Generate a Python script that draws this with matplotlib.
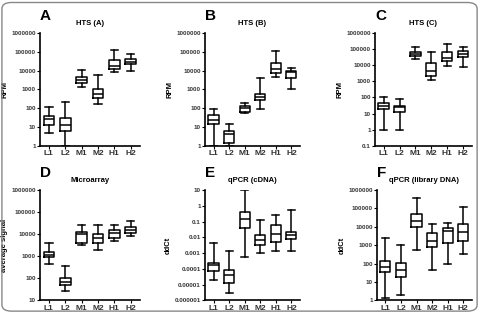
import matplotlib
matplotlib.use("Agg")
import matplotlib.pyplot as plt
from matplotlib.patches import FancyBboxPatch

plt.rcParams['font.family'] = ['Liberation Sans', 'DejaVu Sans']

groups = ['L1', 'L2', 'M1', 'M2', 'H1', 'H2']

# box stats per panel: (whislo, q1, med, q3, whishi) for each group
hts_a = [(5, 13, 27, 40, 110), (1, 6, 13, 30, 220), (1300, 2300, 3200, 4500, 11000),
         (160, 340, 580, 1000, 5500), (8000, 12000, 18000, 36000, 130000),
         (9000, 22000, 30000, 42000, 80000)]
hts_b = [(1, 15, 24, 42, 95), (1, 1.5, 4.5, 6.5, 14), (55, 65, 100, 130, 180),
         (90, 270, 380, 600, 3800), (4500, 7500, 12000, 25000, 110000),
         (1100, 4000, 8500, 10000, 13000)]
hts_c = [(1, 19, 30, 45, 100), (1, 12, 24, 30, 75), (24000, 35000, 50000, 65000, 130000),
         (1200, 2000, 4400, 13000, 70000), (9500, 19000, 28000, 65000, 200000),
         (8000, 30000, 50000, 75000, 130000)]
micro = [(450, 900, 1200, 1500, 4000), (27, 48, 70, 100, 370), (3400, 4200, 9800, 13000, 27000),
         (2000, 4200, 6900, 9700, 25000), (4700, 7000, 11000, 15000, 25000),
         (8000, 11000, 16000, 21000, 38000)]
qpcr_cdna = [(2e-5, 7.5e-5, 1.7e-4, 2.5e-4, 0.0045), (3.2e-6, 1.2e-5, 3.9e-5, 8.5e-5, 0.0014),
             (0.0006, 0.039, 0.14, 0.38, 9.5), (0.001, 0.0033, 0.0068, 0.014, 0.13),
             (0.0013, 0.005, 0.017, 0.065, 0.28), (0.0013, 0.008, 0.015, 0.022, 0.57)]
qpcr_lib = [(1.4, 36, 70, 140, 2600), (2, 19, 45, 110, 1000), (560, 9500, 22000, 50000, 360000),
            (48, 850, 1700, 4500, 14000), (95, 1300, 6000, 8500, 16000),
            (350, 1800, 5500, 14000, 115000)]

panels = [
    ('A', 'HTS (A)', 'RPM', hts_a, (0, 6), [0.083, 0.534, 0.208, 0.361]),
    ('B', 'HTS (B)', 'RPM', hts_b, (0, 6), [0.427, 0.534, 0.198, 0.361]),
    ('C', 'HTS (C)', 'RPM', hts_c, (-1, 6), [0.781, 0.534, 0.202, 0.361]),
    ('D', 'Microarray', 'average signal', micro, (1, 6), [0.083, 0.04, 0.208, 0.353]),
    ('E', 'qPCR (cDNA)', 'ddCt', qpcr_cdna, (-6, 1), [0.427, 0.04, 0.198, 0.353]),
    ('F', 'qPCR (library DNA)', 'ddCt', qpcr_lib, (0, 6), [0.785, 0.04, 0.198, 0.353]),
]


def fmt(e):
    # plain decimal label for 10**e
    if e >= 0:
        return str(10 ** e)
    return '0.' + '0' * (-e - 1) + '1'


fig = plt.figure(figsize=(4.8, 3.13), dpi=100)

for letter, title, ylabel, data, (e0, e1), pos in panels:
    ax = fig.add_axes(pos)
    stats = []
    for g, (lo, q1, med, q3, hi) in zip(groups, data):
        stats.append(dict(label=g, whislo=lo, q1=q1, med=med, q3=q3, whishi=hi, fliers=[]))
    ax.bxp(stats, widths=0.65, capwidths=0.45, showfliers=False,
           boxprops=dict(color='black', linewidth=1.1),
           whiskerprops=dict(color='black', linewidth=1.1),
           capprops=dict(color='black', linewidth=1.1),
           medianprops=dict(color='black', linewidth=1.1))
    ax.set_yscale('log')
    ax.set_ylim(10.0 ** e0, 10.0 ** e1)
    ax.set_xlim(0.45, 6.55)
    exps = list(range(e0, e1 + 1))
    ax.set_yticks([10.0 ** e for e in exps])
    ax.set_yticklabels([fmt(e) for e in exps])
    ax.minorticks_off()
    ax.spines['top'].set_visible(False)
    ax.spines['right'].set_visible(False)
    ax.spines['left'].set_linewidth(1.2)
    ax.spines['bottom'].set_linewidth(1.2)
    ax.tick_params(axis='y', labelsize=4.5, length=2, width=0.8, pad=1)
    ax.tick_params(axis='x', labelsize=6, length=2, width=0.8, pad=1)
    for lab in ax.get_xticklabels() + ax.get_yticklabels():
        lab.set_fontweight('bold')
        lab.set_color('#333333')
    ax.set_ylabel(ylabel, fontsize=5.5, fontweight='bold', labelpad=2)
    ax.set_title(title, fontsize=5.5, fontweight='bold', pad=6)
    ax.text(0.0, 1.09, letter, transform=ax.transAxes, fontsize=11, fontweight='bold',
            ha='left', va='bottom')

border = FancyBboxPatch((0.004, 0.006), 0.99, 0.986, boxstyle='round,pad=0,rounding_size=0.02',
                        transform=fig.transFigure, fill=False, edgecolor='#888888', linewidth=1)
fig.patches.append(border)

fig.savefig('out.png', dpi=100)
